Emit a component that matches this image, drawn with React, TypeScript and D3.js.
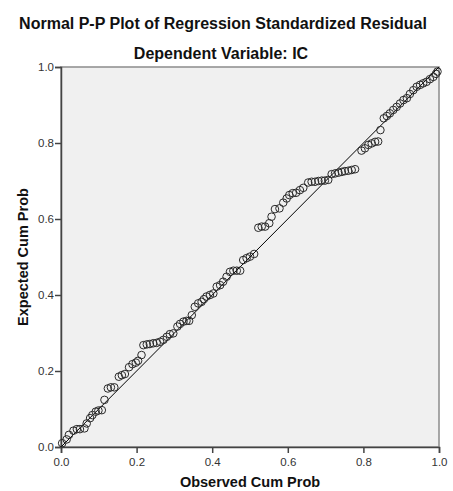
import * as d3 from 'd3';
import React, { useEffect, useRef } from 'react';

const observed = [
  0.003, 0.015, 0.021, 0.033, 0.042, 0.05, 0.062, 0.068, 0.077, 0.083,
  0.092, 0.099, 0.108, 0.115, 0.124, 0.132, 0.141, 0.153, 0.161, 0.169,
  0.18, 0.189, 0.198, 0.204, 0.213, 0.218, 0.227, 0.235, 0.244, 0.253,
  0.262, 0.271, 0.28, 0.288, 0.297, 0.308, 0.315, 0.324, 0.332, 0.339,
  0.346, 0.354, 0.363, 0.372, 0.378, 0.385, 0.394, 0.403, 0.412, 0.421,
  0.429, 0.438, 0.447, 0.456, 0.465, 0.474, 0.482, 0.491, 0.5, 0.511,
  0.522, 0.531, 0.54, 0.551, 0.557, 0.566, 0.578, 0.588, 0.597, 0.604,
  0.613, 0.622, 0.632, 0.641, 0.654, 0.663, 0.672, 0.681, 0.69, 0.698,
  0.707, 0.716, 0.725, 0.734, 0.743, 0.751, 0.76, 0.769, 0.778, 0.795,
  0.804, 0.813, 0.822, 0.831, 0.839, 0.845, 0.854, 0.862, 0.87, 0.879,
  0.888, 0.897, 0.906, 0.915, 0.923, 0.932, 0.941, 0.95, 0.958, 0.967,
  0.976, 0.985, 0.992, 0.996,
];

const expected = [
  0.01, 0.02, 0.032, 0.043, 0.047, 0.047, 0.049, 0.062, 0.076, 0.084,
  0.093, 0.096, 0.097, 0.124, 0.154, 0.157, 0.157, 0.185, 0.189, 0.192,
  0.21, 0.218, 0.222, 0.227, 0.242, 0.268, 0.27, 0.271, 0.273, 0.274,
  0.277, 0.282, 0.29, 0.297, 0.299, 0.317, 0.324, 0.33, 0.332, 0.332,
  0.347, 0.369, 0.378, 0.382, 0.389, 0.396, 0.4, 0.404, 0.422, 0.426,
  0.435, 0.448, 0.461, 0.464, 0.464, 0.464, 0.492, 0.497, 0.501, 0.508,
  0.577, 0.58, 0.58, 0.589, 0.606, 0.626, 0.628, 0.643, 0.654, 0.663,
  0.668, 0.669, 0.676, 0.682, 0.696, 0.698, 0.698, 0.7, 0.701, 0.701,
  0.703, 0.718, 0.72, 0.722, 0.724, 0.726, 0.727, 0.729, 0.731, 0.78,
  0.786, 0.795, 0.799, 0.803, 0.804, 0.834, 0.865, 0.871, 0.878, 0.887,
  0.895, 0.904, 0.913, 0.918, 0.929, 0.939, 0.948, 0.953, 0.957, 0.961,
  0.968, 0.974, 0.982, 0.988,
];

const tickValues = [0, 0.2, 0.4, 0.6, 0.8, 1.0];

const WIDTH = 453;
const HEIGHT = 491;
const FONT = 'Arial, "Liberation Sans", sans-serif';

export default function App() {
  const ref = useRef<SVGSVGElement>(null);

  useEffect(() => {
    const svg = d3.select(ref.current);
    svg.selectAll('*').remove();

    const x = d3.scaleLinear().domain([0, 1]).range([61, 439]);
    const y = d3.scaleLinear().domain([0, 1]).range([447, 67]);

    // plot background + frame
    svg
      .append('rect')
      .attr('x', x(0))
      .attr('y', y(1))
      .attr('width', x(1) - x(0))
      .attr('height', y(0) - y(1))
      .attr('fill', '#f0f0f0')
      .attr('stroke', '#8c8c8c')
      .attr('stroke-width', 1.5);

    // titles
    svg
      .append('text')
      .attr('x', 223)
      .attr('y', 29)
      .attr('text-anchor', 'middle')
      .attr('font-family', FONT)
      .attr('font-weight', 'bold')
      .attr('font-size', 16)
      .attr('fill', '#111')
      .text('Normal P-P Plot of Regression Standardized Residual');

    svg
      .append('text')
      .attr('x', 221)
      .attr('y', 59)
      .attr('text-anchor', 'middle')
      .attr('font-family', FONT)
      .attr('font-weight', 'bold')
      .attr('font-size', 16)
      .attr('fill', '#111')
      .text('Dependent Variable: IC');

    // axes
    const xAxis = svg
      .append('g')
      .attr('transform', `translate(0,${y(0)})`)
      .call(d3.axisBottom(x).tickValues(tickValues).tickSize(6).tickFormat(d3.format('.1f')));
    const yAxis = svg
      .append('g')
      .attr('transform', `translate(${x(0)},0)`)
      .call(d3.axisLeft(y).tickValues(tickValues).tickSize(6).tickFormat(d3.format('.1f')));

    [xAxis, yAxis].forEach((g) => {
      g.select('.domain').attr('stroke', '#444').attr('stroke-width', 1.5);
      g.selectAll('.tick line').attr('stroke', '#444').attr('stroke-width', 1.5);
      g.selectAll('.tick text')
        .attr('font-family', FONT)
        .attr('font-size', 11.5)
        .attr('fill', '#333');
    });
    xAxis.selectAll('.tick text').attr('dy', '0.9em');
    yAxis.selectAll('.tick text').attr('x', -7);

    svg
      .append('text')
      .attr('x', 250)
      .attr('y', 487)
      .attr('text-anchor', 'middle')
      .attr('font-family', FONT)
      .attr('font-weight', 'bold')
      .attr('font-size', 14.5)
      .attr('fill', '#111')
      .text('Observed Cum Prob');

    svg
      .append('text')
      .attr('transform', `translate(28,${(y(0) + y(1)) / 2}) rotate(-90)`)
      .attr('text-anchor', 'middle')
      .attr('font-family', FONT)
      .attr('font-weight', 'bold')
      .attr('font-size', 14.5)
      .attr('fill', '#111')
      .text('Expected Cum Prob');

    // reference line
    svg
      .append('line')
      .attr('x1', x(0))
      .attr('y1', y(0))
      .attr('x2', x(1))
      .attr('y2', y(1))
      .attr('stroke', '#000')
      .attr('stroke-width', 1);

    const points = observed.map((o, i) => ({ o, e: expected[i] }));

    svg
      .append('g')
      .selectAll('circle')
      .data(points)
      .join('circle')
      .attr('cx', (d) => x(d.o))
      .attr('cy', (d) => y(d.e))
      .attr('r', 3.8)
      .attr('fill', 'none')
      .attr('stroke', '#2a2a2a')
      .attr('stroke-width', 1);
  }, []);

  return (
    <svg
      ref={ref}
      width={WIDTH}
      height={HEIGHT}
      style={{ position: 'absolute', left: 0, top: 0, background: '#fff' }}
    />
  );
}
